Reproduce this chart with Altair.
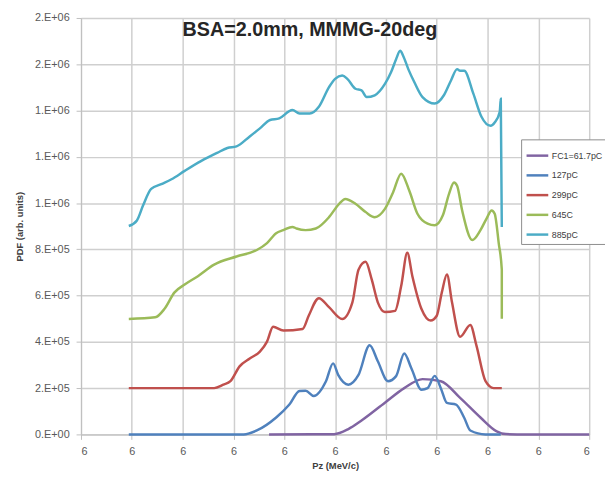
import altair as alt
import pandas as pd

chart_title = "BSA=2.0mm, MMMG-20deg"
series_names = ["FC1=61.7pC", "127pC", "299pC", "645C", "885pC"]
series_colors = ["#8064A2", "#4F81BD", "#C0504D", "#9BBB59", "#4BACC6"]

x_ticks = [5.75, 5.80, 5.85, 5.90, 5.95, 6.00, 6.05, 6.10, 6.15, 6.20, 6.25]
y_ticks = [0, 2e5, 4e5, 6e5, 8e5, 1.0e6, 1.2e6, 1.4e6, 1.6e6, 1.8e6]

# FC1=61.7pC
x_fc1 = [5.935, 5.999, 6.013, 6.026, 6.049, 6.068, 6.086, 6.104, 6.123, 6.143, 6.159, 6.168, 6.188, 6.250]
y_fc1 = [0, 1.0e3, 2.3e4, 6.0e4, 1.37e5, 2.0e5, 2.39e5, 2.30e5, 1.58e5, 7.3e4, 1.3e4, 1.3e3, 0, 0]

# 127pC
x_127 = [5.797, 5.910, 5.923, 5.942, 5.955, 5.965, 5.971, 5.979, 5.991, 5.998, 6.003,
         6.013, 6.023, 6.034, 6.042, 6.052, 6.060, 6.068, 6.075, 6.085, 6.091, 6.098,
         6.104, 6.110, 6.119, 6.127, 6.133, 6.148, 6.163]
y_127 = [0, 0, 1.7e4, 7.3e4, 1.29e5, 1.88e5, 1.89e5, 1.66e5, 2.30e5, 3.07e5, 2.57e5,
         2.15e5, 2.57e5, 3.85e5, 3.16e5, 2.30e5, 2.52e5, 3.50e5, 2.86e5, 1.93e5, 2.0e5, 2.53e5,
         2.0e5, 1.36e5, 1.29e5, 7.2e4, 1.7e4, 0, 0]

# 299pC
x_299 = [5.797, 5.881, 5.890, 5.897, 5.906, 5.916, 5.926, 5.933, 5.939, 5.949, 5.968,
         5.974, 5.984, 5.994, 6.007, 6.017, 6.023, 6.030, 6.036, 6.042, 6.049, 6.059,
         6.065, 6.071, 6.076, 6.085, 6.094, 6.100, 6.105, 6.110, 6.115, 6.123, 6.133,
         6.139, 6.148, 6.156, 6.164]
y_299 = [2.0e5, 2.0e5, 2.15e5, 2.30e5, 2.94e5, 3.28e5, 3.58e5, 4.01e5, 4.65e5, 4.49e5, 4.56e5,
         5.13e5, 5.89e5, 5.50e5, 4.99e5, 5.71e5, 7.12e5, 7.46e5, 6.70e5, 5.71e5, 5.29e5, 5.34e5,
         6.41e5, 7.85e5, 6.84e5, 5.42e5, 4.92e5, 5.13e5, 6.14e5, 6.91e5, 5.71e5, 4.22e5, 4.73e5,
         3.85e5, 2.30e5, 2.0e5, 2.0e5]

# 645C
x_645 = [5.797, 5.823, 5.832, 5.842, 5.852, 5.865, 5.881, 5.903, 5.923, 5.933, 5.942,
         5.949, 5.958, 5.962, 5.971, 5.981, 5.994, 6.004, 6.010, 6.020, 6.030, 6.039,
         6.049, 6.057, 6.065, 6.073, 6.081, 6.091, 6.098, 6.106, 6.112, 6.117, 6.120,
         6.125, 6.135, 6.143, 6.149, 6.154, 6.157, 6.161, 6.164, 6.164]
y_645 = [4.99e5, 5.06e5, 5.42e5, 6.14e5, 6.48e5, 6.84e5, 7.34e5, 7.69e5, 7.97e5, 8.27e5, 8.70e5,
         8.83e5, 8.97e5, 8.90e5, 8.83e5, 8.90e5, 9.39e5, 9.97e5, 1.018e6, 9.97e5, 9.61e5, 9.39e5,
         9.75e5, 1.046e6, 1.127e6, 1.053e6, 9.54e5, 9.11e5, 9.04e5, 9.47e5, 1.039e6, 1.089e6, 1.075e6,
         9.68e5, 8.40e5, 8.83e5, 9.33e5, 9.68e5, 9.54e5, 8.26e5, 7.12e5, 5.0e5]

# 885pC
x_885 = [5.797, 5.805, 5.811, 5.819, 5.829, 5.839, 5.852, 5.868, 5.884, 5.894, 5.903,
         5.916, 5.926, 5.936, 5.945, 5.958, 5.965, 5.975, 5.984, 5.994, 6.000, 6.007,
         6.012, 6.020, 6.026, 6.031, 6.039, 6.049, 6.055, 6.060, 6.064, 6.067, 6.072,
         6.078, 6.086, 6.098, 6.107, 6.114, 6.120, 6.123, 6.127, 6.136, 6.144, 6.153,
         6.157, 6.162, 6.163, 6.164]
y_885 = [9.01e5, 9.25e5, 9.89e5, 1.061e6, 1.082e6, 1.103e6, 1.139e6, 1.181e6, 1.217e6, 1.238e6, 1.245e6,
         1.288e6, 1.323e6, 1.359e6, 1.366e6, 1.402e6, 1.387e6, 1.387e6, 1.416e6, 1.501e6, 1.537e6, 1.551e6,
         1.537e6, 1.494e6, 1.487e6, 1.458e6, 1.466e6, 1.515e6, 1.565e6, 1.622e6, 1.658e6, 1.636e6, 1.579e6,
         1.522e6, 1.458e6, 1.430e6, 1.466e6, 1.530e6, 1.579e6, 1.572e6, 1.572e6, 1.473e6, 1.373e6, 1.334e6,
         1.348e6, 1.395e6, 1.451e6, 8.97e5]

series_x = [x_fc1, x_127, x_299, x_645, x_885]
series_y = [y_fc1, y_127, y_299, y_645, y_885]

rows = []
for name, xs, ys in zip(series_names, series_x, series_y):
    for i, (xv, yv) in enumerate(zip(xs, ys)):
        rows.append({"series": name, "Pz": xv, "PDF": yv, "idx": i})
df = pd.DataFrame(rows)

label_expr = ("slice(format(datum.value, '.0e'), 0, 1) + '.E+0' + "
              "slice(format(datum.value, '.0e'), 3)")

lines = alt.Chart(df).mark_line(strokeWidth=2.5, interpolate="monotone").encode(
    x=alt.X("Pz:Q",
            scale=alt.Scale(domain=[5.75, 6.25], nice=False, zero=False),
            axis=alt.Axis(values=x_ticks, format=".0f", title="Pz (MeV/c)",
                          titleX=257.5, titleY=27)),
    y=alt.Y("PDF:Q",
            scale=alt.Scale(domain=[0, 1.8e6], nice=False),
            axis=alt.Axis(values=y_ticks, labelExpr=label_expr, title="PDF (arb. units)",
                          titleX=-57, titleY=211)),
    color=alt.Color("series:N",
                    scale=alt.Scale(domain=series_names, range=series_colors),
                    legend=alt.Legend(orient="none", legendX=446, legendY=123, title=None,
                                      symbolType="stroke", symbolSize=484, symbolStrokeWidth=2.5,
                                      labelFontSize=9, labelFont="Liberation Sans",
                                      labelColor="#404040", padding=4, rowPadding=2,
                                      strokeColor="#8c8c8c", fillColor="white", labelOffset=2)),
    order=alt.Order("idx:Q"),
)

title_df = pd.DataFrame({"t": [chart_title]})
title = alt.Chart(title_df).mark_text(
    fontSize=20, fontWeight="bold", font="Liberation Sans", color="#262626",
    align="center", baseline="alphabetic"
).encode(text="t:N", x=alt.value(232), y=alt.value(18))

chart = alt.layer(lines, title).properties(
    width=515, height=422,
    autosize=alt.AutoSizeParams(type="none"),
    padding={"left": 74, "top": 7, "right": 16, "bottom": 37},
).configure_view(stroke=None).configure_axis(
    grid=True, gridColor="#cfcfcf", gridWidth=1.5,
    domainColor="#bfbfbf", tickColor="#bfbfbf", tickSize=5,
    labelFont="Liberation Sans", labelFontSize=11, labelColor="#595959",
    titleFont="Liberation Sans", titleFontSize=9.5, titleFontWeight="bold", titleColor="#404040",
).configure_axisX(labelPadding=6).configure_axisY(labelPadding=7)

chart.save("out.html", embed_options={"renderer": "svg", "actions": False})
